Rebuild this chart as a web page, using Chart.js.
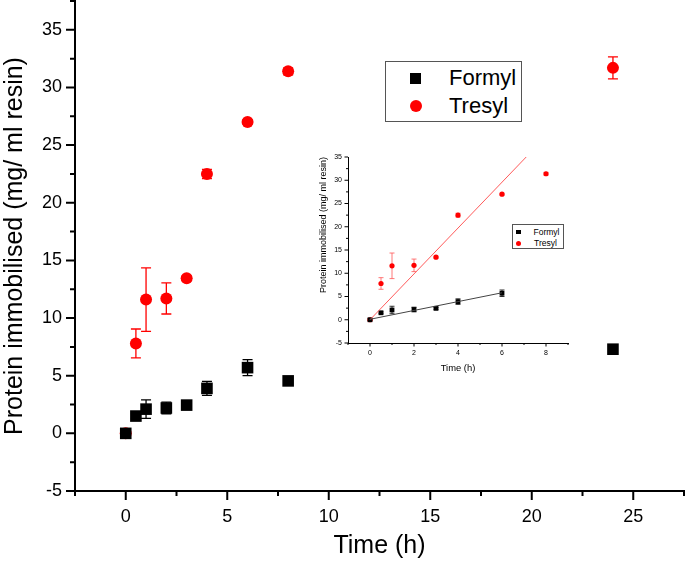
<!DOCTYPE html>
<html lang="en">
<head>
  <meta charset="UTF-8">
  <title>Protein immobilised vs time</title>
  <style>
    body, html { margin:0; padding:0; background:#fff; overflow:hidden; }
    #wrap { position:relative; width:685px; height:567px; font-family:"Liberation Sans", Arial, sans-serif; }
    canvas { position:absolute; }
    .legend { position:absolute; border:1px solid #555; background:#fff; box-sizing:border-box; }
    .legend .row { position:absolute; left:0; right:0; display:flex; align-items:center; color:#000; white-space:nowrap; }
    .sq { background:#000; }
    .dot { background:#f00; border-radius:50%; }
  </style>
</head>
<body>
  <div id="wrap">
    <canvas id="main" width="685" height="567" style="left:0;top:0"></canvas>
    <canvas id="inset" width="254" height="228" style="left:318px;top:150px"></canvas>

    <div class="legend" style="left:385px;top:61px;width:137px;height:61px">
      <div class="row" style="top:5px;height:22px;font-size:22px">
        <span class="sq" style="width:11px;height:11px;margin-left:24px;margin-right:28px"></span>Formyl</div>
      <div class="row" style="top:33px;height:22px;font-size:22px">
        <span class="dot" style="width:12px;height:12px;margin-left:24px;margin-right:27px"></span>Tresyl</div>
    </div>

    <div class="legend" style="left:512px;top:224px;width:52px;height:25px">
      <div class="row" style="top:2px;height:10px;font-size:8.5px">
        <span class="sq" style="width:4.5px;height:4.5px;margin-left:3px;margin-right:13px"></span>Formyl</div>
      <div class="row" style="top:13px;height:10px;font-size:8.5px">
        <span class="dot" style="width:5px;height:5px;margin-left:3px;margin-right:13px"></span>Tresyl</div>
    </div>
  </div>

  <script src="https://cdn.jsdelivr.net/npm/chart.js"></script>
  <script>
    // values
    const times     = [0, 0.5, 1, 2, 3, 4, 6, 8, 24];
    const formyl    = [0, 1.5, 2.1, 2.2, 2.45, 3.9, 5.7, 4.55, 7.3];
    const formylErr = [0.2, 0.2, 0.8, 0.5, 0.2, 0.6, 0.7, 0.2, 0.2];
    const tresyl    = [0, 7.8, 11.6, 11.7, 13.45, 22.5, 27.0, 31.4, 31.7];
    const tresylErr = [0.2, 1.25, 2.75, 1.35, 0.2, 0.4, 0.2, 0.3, 0.95];

    const insetFormylN = 7, insetTresylN = 8;
    const formylFitX = [0, 6], formylFitY = [0.1, 5.8];
    const tresylFitX = [0, 7.1], tresylFitY = [0, 35];

    const yTitle = 'Protein immobilised (mg/ ml resin)';
    const xTitle = 'Time (h)';

    Chart.defaults.font.family = '"Liberation Sans", Arial, sans-serif';
    Chart.defaults.color = '#000';

    const pts = (xs, ys, n) => xs.slice(0, n).map((x, i) => ({ x: x, y: ys[i] }));

    // fixed axis boxes, no label overhang padding
    const fitX = h => s => { s.height = h; s.paddingLeft = 0; s.paddingRight = 0; };
    const fitY = w => s => { s.width = w; s.paddingTop = 0; s.paddingBottom = 0; };

    // error bars behind markers, tick marks (major/minor) outside axes
    const extras = {
      id: 'extras',
      beforeDatasetsDraw(chart, args, o) {
        const ctx = chart.ctx, sx = chart.scales.x, sy = chart.scales.y;
        chart.data.datasets.forEach(ds => {
          if (!ds.errors) return;
          ctx.save();
          ctx.strokeStyle = ds.errColor;
          ctx.lineWidth = o.errWidth;
          ds.data.forEach((p, j) => {
            const e = ds.errors[j];
            const px = sx.getPixelForValue(p.x);
            const y1 = sy.getPixelForValue(p.y - e), y2 = sy.getPixelForValue(p.y + e);
            ctx.beginPath();
            ctx.moveTo(px, y1); ctx.lineTo(px, y2);
            ctx.moveTo(px - o.cap, y1); ctx.lineTo(px + o.cap, y1);
            ctx.moveTo(px - o.cap, y2); ctx.lineTo(px + o.cap, y2);
            ctx.stroke();
          });
          ctx.restore();
        });
      },
      afterDraw(chart, args, o) {
        const ctx = chart.ctx, sx = chart.scales.x, sy = chart.scales.y, a = chart.chartArea;
        ctx.save();
        ctx.strokeStyle = '#000';
        ctx.lineWidth = o.tickWidth;
        ctx.beginPath();
        sx.ticks.forEach(t => {
          const L = t.label === '' ? o.minor : o.major;
          const px = sx.getPixelForValue(t.value);
          ctx.moveTo(px, a.bottom); ctx.lineTo(px, a.bottom + L);
        });
        sy.ticks.forEach(t => {
          const L = t.label === '' ? o.minor : o.major;
          const py = sy.getPixelForValue(t.value);
          ctx.moveTo(a.left, py); ctx.lineTo(a.left - L, py);
        });
        ctx.stroke();
        ctx.restore();
      }
    };

    new Chart(document.getElementById('main'), {
      type: 'scatter',
      data: {
        datasets: [
          { label: 'Formyl', data: pts(times, formyl), errors: formylErr, errColor: '#000',
            pointStyle: 'rect', pointRadius: 8.2, backgroundColor: '#000', borderColor: '#000', borderWidth: 0 },
          { label: 'Tresyl', data: pts(times, tresyl), errors: tresylErr, errColor: '#f00',
            pointStyle: 'circle', pointRadius: 6, backgroundColor: '#f00', borderColor: '#f00', borderWidth: 0 }
        ]
      },
      options: {
        responsive: false, animation: false,
        layout: { autoPadding: false, padding: { top: 1, right: 1, left: 0, bottom: 0 } },
        plugins: { legend: { display: false }, tooltip: { enabled: false },
                   extras: { errWidth: 1.3, cap: 5, major: 9, minor: 5, tickWidth: 2 } },
        scales: {
          x: {
            type: 'linear', min: -2.5, max: 27.5,
            ticks: { stepSize: 2.5, autoSkip: false, maxRotation: 0, padding: 15,
                     font: { size: 18 }, callback: v => (v % 5 === 0 ? v : '') },
            grid: { display: false, drawTicks: false },
            border: { color: '#000', width: 2 },
            title: { display: true, text: xTitle, font: { size: 25 }, padding: { top: 0, bottom: 6 } },
            afterFit: fitX(76)
          },
          y: {
            min: -5, max: 37.5,
            ticks: { stepSize: 2.5, autoSkip: false, padding: 13,
                     font: { size: 18 }, callback: v => (v % 5 === 0 ? v : '') },
            grid: { display: false, drawTicks: false },
            border: { color: '#000', width: 2 },
            title: { display: true, text: yTitle, font: { size: 25 }, padding: 0 },
            afterFit: fitY(75)
          }
        }
      },
      plugins: [extras]
    });

    new Chart(document.getElementById('inset'), {
      type: 'scatter',
      data: {
        datasets: [
          { label: 'Formyl fit', type: 'line', data: pts(formylFitX, formylFitY), showLine: true,
            borderColor: '#444', borderWidth: 1, pointRadius: 0 },
          { label: 'Tresyl fit', type: 'line', data: pts(tresylFitX, tresylFitY), showLine: true,
            borderColor: '#ff5a5a', borderWidth: 1, pointRadius: 0 },
          { label: 'Formyl', data: pts(times, formyl, insetFormylN), errors: formylErr, errColor: '#000',
            pointStyle: 'rect', pointRadius: 3.4, backgroundColor: '#000', borderWidth: 0 },
          { label: 'Tresyl', data: pts(times, tresyl, insetTresylN), errors: tresylErr, errColor: '#f55',
            pointStyle: 'circle', pointRadius: 2.6, backgroundColor: '#f00', borderWidth: 0 }
        ]
      },
      options: {
        responsive: false, animation: false,
        layout: { autoPadding: false, padding: { top: 7, right: 4, left: 0, bottom: 0 } },
        plugins: { legend: { display: false }, tooltip: { enabled: false },
                   extras: { errWidth: 0.8, cap: 2.5, major: 3.5, minor: 2, tickWidth: 1 } },
        scales: {
          x: {
            type: 'linear', min: -1, max: 9,
            ticks: { stepSize: 1, autoSkip: false, maxRotation: 0, padding: 6,
                     font: { size: 7 }, callback: v => (v % 2 === 0 ? v : '') },
            grid: { display: false, drawTicks: false },
            border: { color: '#000', width: 1 },
            title: { display: true, text: xTitle, font: { size: 9.4 }, padding: { top: 0, bottom: 4 } },
            afterFit: fitX(35)
          },
          y: {
            min: -5, max: 35,
            ticks: { stepSize: 2.5, autoSkip: false, padding: 6,
                     font: { size: 7 }, callback: v => (v % 5 === 0 ? v : '') },
            grid: { display: false, drawTicks: false },
            border: { color: '#000', width: 1 },
            title: { display: true, text: yTitle, align: 'end', font: { size: 9 }, padding: 0 },
            afterFit: fitY(30)
          }
        }
      },
      plugins: [extras]
    });
  </script>
</body>
</html>
